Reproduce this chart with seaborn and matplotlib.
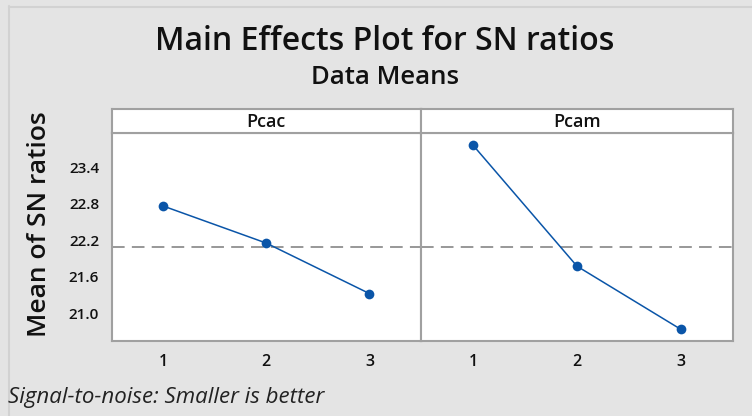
import matplotlib
matplotlib.use("Agg")
import matplotlib.pyplot as plt
import seaborn as sns
import pandas as pd
import numpy as np
from matplotlib.lines import Line2D

factors = ["Pcac", "Pcam"]
levels = [1, 2, 3]
pcac_means = [22.76, 22.15, 21.32]
pcam_means = [23.76, 21.77, 20.73]
yticks = [21.0, 21.6, 22.2, 22.8, 23.4]
ytick_labels = ["21.0", "21.6", "22.2", "22.8", "23.4"]

sns.set_theme(style="white")
plt.rcParams['font.family'] = ['Open Sans', 'DejaVu Sans']

df = pd.DataFrame({
    "factor": np.repeat(factors, len(levels)),
    "level": levels * len(factors),
    "mean": pcac_means + pcam_means,
})
grand_mean = df["mean"].mean()

bg = "#e4e4e4"
frame = "#a0a0a0"
blue = "#0a55a8"

fig = plt.figure(figsize=(7.52, 4.16), dpi=100, facecolor=bg)

W, H = 752.0, 416.0
x0, xm, x1 = 111.5, 421.0, 733.0
ytop, ybot, ystrip = 133.0, 341.0, 109.0

# outer frame lines of the image
fig.add_artist(Line2D([8.5 / W, 8.5 / W], [0, 1 - 6 / H], color="#d2d2d2", linewidth=1.5))
fig.add_artist(Line2D([8.5 / W, 1], [1 - 6.5 / H, 1 - 6.5 / H], color="#d2d2d2", linewidth=1.5))

for i, (l, r) in enumerate([(x0, xm), (xm, x1)]):
    ax = fig.add_axes([l / W, 1 - ybot / H, (r - l) / W, (ybot - ytop) / H])
    sub = df[df["factor"] == factors[i]]
    sns.lineplot(data=sub, x="level", y="mean", ax=ax, color=blue, marker="o",
                 markersize=7, markeredgewidth=0, linewidth=1.1)
    ax.axhline(grand_mean, color="#909090", linestyle=(0, (7, 4)), linewidth=1.3, zorder=0)
    ax.set_xlim(0.5, 3.5)
    ax.set_ylim(20.54, 23.96)
    ax.set_xticks(levels)
    ax.set_xticklabels([str(v) for v in levels], fontsize=11.5, color="#111111",
                       fontweight="semibold")
    ax.set_xlabel("")
    ax.set_ylabel("")
    ax.set_facecolor("white")
    for s in ax.spines.values():
        s.set_color(frame)
        s.set_linewidth(1.5)
    ax.tick_params(axis="both", which="both", length=3, width=0.8, color=frame, direction="out", pad=6)
    if i == 0:
        ax.set_yticks(yticks)
        ax.set_yticklabels(ytick_labels, fontsize=11, color="#111111", fontweight="semibold")
    else:
        ax.set_yticks([])
    # strip
    sax = fig.add_axes([l / W, 1 - ytop / H, (r - l) / W, (ytop - ystrip) / H])
    sax.set_facecolor("white")
    sax.set_xticks([])
    sax.set_yticks([])
    for s in sax.spines.values():
        s.set_color(frame)
        s.set_linewidth(1.5)
    sax.text(0.5, 0.45, factors[i], ha="center", va="center", fontsize=13,
             color="#111111", fontweight="semibold", transform=sax.transAxes)

fig.text(385 / W, 1 - 41 / H, "Main Effects Plot for SN ratios", ha="center", va="center",
         fontsize=23, fontweight="semibold", color="#111111")
fig.text(385 / W, 1 - 78 / H, "Data Means", ha="center", va="center",
         fontsize=18.5, fontweight="semibold", color="#111111")
fig.text(40 / W, 1 - 224 / H, "Mean of SN ratios", ha="center", va="center",
         rotation=90, fontsize=19, fontweight="semibold", color="#111111")
fig.text(8 / W, 1 - 398 / H, "Signal-to-noise: Smaller is better", ha="left", va="center",
         fontsize=16, style="italic", color="#222222")

fig.savefig("out.png", dpi=100, facecolor=bg)
